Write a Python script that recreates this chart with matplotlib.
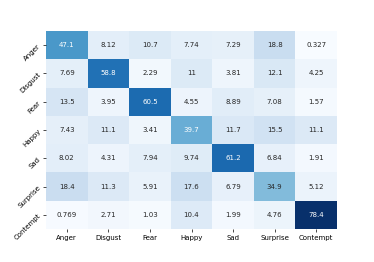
import matplotlib
matplotlib.use('Agg')
import matplotlib.pyplot as plt
import numpy as np
import seaborn as sns

labels = ['Anger', 'Disgust', 'Fear', 'Happy', 'Sad', 'Surprise', 'Contempt']

anger    = [47.1, 8.12, 10.7, 7.74, 7.29, 18.8, 0.327]
disgust  = [7.69, 58.8, 2.29, 11, 3.81, 12.1, 4.25]
fear     = [13.5, 3.95, 60.5, 4.55, 8.89, 7.08, 1.57]
happy    = [7.43, 11.1, 3.41, 39.7, 11.7, 15.5, 11.1]
sad      = [8.02, 4.31, 7.94, 9.74, 61.2, 6.84, 1.91]
surprise = [18.4, 11.3, 5.91, 17.6, 6.79, 34.9, 5.12]
contempt = [0.769, 2.71, 1.03, 10.4, 1.99, 4.76, 78.4]

cm = np.array([anger, disgust, fear, happy, sad, surprise, contempt])

fig = plt.figure(figsize=(3.74, 2.62), dpi=100)
ax = fig.add_axes([46/374, 1 - 229/262, (337-46)/374, (229-31)/262])
sns.heatmap(cm, ax=ax, cmap='Blues', annot=True, fmt='.3g', cbar=False,
            xticklabels=labels, yticklabels=labels,
            annot_kws={'fontsize': 5})
ax.tick_params(axis='both', labelsize=5, length=2, width=0.5, pad=2.5)
plt.setp(ax.get_yticklabels(), rotation=45, ha='right', va='center', rotation_mode='anchor')
plt.setp(ax.get_xticklabels(), rotation=0)

fig.savefig('out.png', dpi=100)
